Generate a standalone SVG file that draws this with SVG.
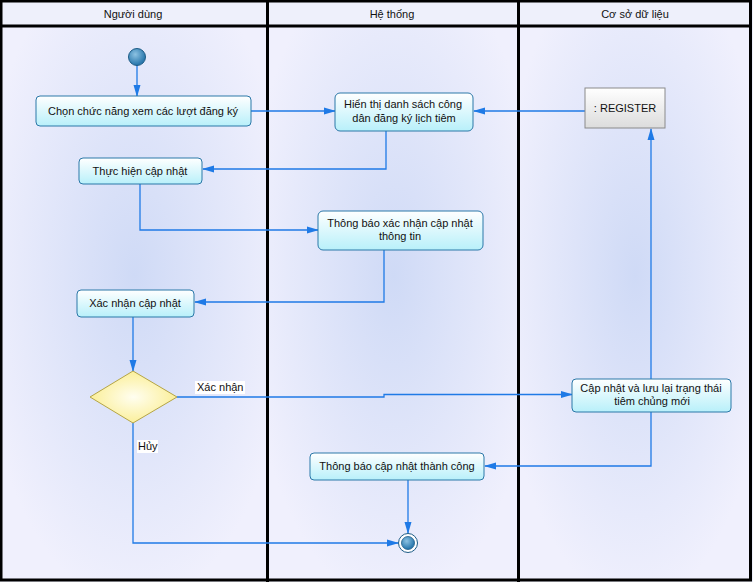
<svg xmlns="http://www.w3.org/2000/svg" width="753" height="582" viewBox="0 0 753 582">
<style>
text{font-family:"Liberation Sans",Arial,sans-serif;font-size:11px;fill:#111;}
.hdr{text-anchor:middle;}
.act rect{fill:url(#actG);stroke:#2b78a8;stroke-width:1;}
.act text{text-anchor:middle;}
.edge{fill:none;stroke:#1f7ae6;stroke-width:1.3;}
.sep{stroke:#000;stroke-width:3;}
</style>
<defs>
<linearGradient id="actG" x1="0" y1="0" x2="0" y2="1">
<stop offset="0" stop-color="#ffffff"/>
<stop offset="1" stop-color="#b8f0fa"/>
</linearGradient>
<linearGradient id="regG" x1="0" y1="0" x2="0" y2="1">
<stop offset="0" stop-color="#ffffff"/>
<stop offset="1" stop-color="#dcdcdc"/>
</linearGradient>
<radialGradient id="decG" cx="0.5" cy="0.5" r="0.5">
<stop offset="0" stop-color="#fffef0"/>
<stop offset="1" stop-color="#fbef9a"/>
</radialGradient>
<radialGradient id="nodeG" cx="0.4" cy="0.35" r="0.6">
<stop offset="0" stop-color="#8cc2e2"/>
<stop offset="1" stop-color="#2a78ad"/>
</radialGradient>
<radialGradient id="laneG" cx="0.5" cy="0.45" r="0.6">
<stop offset="0" stop-color="#cfdaf6"/>
<stop offset="1" stop-color="#f0f0fd"/>
</radialGradient>
<marker id="arr" viewBox="0 0 12 10" refX="11" refY="5" markerWidth="12" markerHeight="10" markerUnits="userSpaceOnUse" orient="auto">
<path d="M0,1.5 L12,5 L0,8.5 Z" fill="#1f7ae6"/>
</marker>
</defs>

<g id="lanes">
<rect x="0" y="0" width="753" height="582" fill="#eef0fb"/>
<rect x="2" y="27" width="265" height="552" fill="url(#laneG)"/>
<rect x="269" y="27" width="249" height="552" fill="url(#laneG)"/>
<rect x="520" y="27" width="230" height="552" fill="url(#laneG)"/>
<rect x="0" y="0" width="753" height="27" fill="#eef0fb"/>
<rect x="1" y="1" width="749.5" height="579" fill="none" stroke="#000" stroke-width="3"/>
<line class="sep" x1="0" y1="26" x2="752" y2="26"/>
<line class="sep" x1="267.5" y1="0" x2="267.5" y2="582"/>
<line class="sep" x1="518.5" y1="0" x2="518.5" y2="582"/>
<text class="hdr" x="133" y="18">Người dùng</text>
<text class="hdr" x="392" y="18">Hệ thống</text>
<text class="hdr" x="635" y="18">Cơ sở dữ liệu</text>
</g>

<g id="connectors">
<path class="edge" d="M137,65 V96" marker-end="url(#arr)"/>
<path class="edge" d="M251,111 H335" marker-end="url(#arr)"/>
<path class="edge" d="M585,111 H474" marker-end="url(#arr)"/>
<path class="edge" d="M386,131 V169 H203" marker-end="url(#arr)"/>
<path class="edge" d="M140,184 V230 H318" marker-end="url(#arr)"/>
<path class="edge" d="M384,250 V302 H195" marker-end="url(#arr)"/>
<path class="edge" d="M133,317 V371" marker-end="url(#arr)"/>
<path class="edge" d="M177,397 H384 V394.5 H572" marker-end="url(#arr)"/>
<path class="edge" d="M651,379 V129" marker-end="url(#arr)"/>
<path class="edge" d="M651,412 V466 H485" marker-end="url(#arr)"/>
<path class="edge" d="M408,480 V533" marker-end="url(#arr)"/>
<path class="edge" d="M133,423 V543 H398" marker-end="url(#arr)"/>
<rect x="195" y="381" width="50" height="13" fill="#fff"/>
<text x="197" y="391">Xác nhận</text>
<rect x="137" y="440" width="21" height="13" fill="#fff"/>
<text x="138" y="450">Hủy</text>
</g>

<g id="start">
<circle cx="137" cy="57" r="8.5" fill="url(#nodeG)" stroke="#1d5c86" stroke-width="1"/>
</g>

<g id="n1" class="act">
<rect x="36" y="96" width="215" height="30" rx="4"/>
<text x="143" y="114.5">Chọn chức năng xem các lượt đăng ký</text>
</g>

<g id="n2" class="act">
<rect x="335" y="93" width="138" height="38" rx="5"/>
<text x="403" y="108">Hiển thị danh sách công</text>
<text x="404" y="122">dân đăng ký lịch tiêm</text>
</g>

<g id="register">
<rect x="585" y="88" width="80" height="40" fill="url(#regG)" stroke="#8a8a8a" stroke-width="1"/>
<text x="625" y="112" text-anchor="middle">: REGISTER</text>
</g>

<g id="n3" class="act">
<rect x="79" y="158" width="123" height="26" rx="4"/>
<text x="140" y="174.5">Thực hiện cập nhật</text>
</g>

<g id="n4" class="act">
<rect x="318" y="211" width="165" height="39" rx="5"/>
<text x="400" y="227">Thông báo xác nhận cập nhật</text>
<text x="400" y="240">thông tin</text>
</g>

<g id="n5" class="act">
<rect x="77" y="290" width="117" height="27" rx="4"/>
<text x="135" y="306.5">Xác nhận cập nhật</text>
</g>

<g id="decision">
<polygon points="90,397 133,371 177,397 133,423" fill="url(#decG)" stroke="#b5a545" stroke-width="1"/>
</g>

<g id="n6" class="act">
<rect x="572" y="379" width="159" height="33" rx="4"/>
<text x="651" y="392">Cập nhật và lưu lại trạng thái</text>
<text x="652" y="405">tiêm chủng mới</text>
</g>

<g id="n7" class="act">
<rect x="310" y="453" width="174" height="27" rx="4"/>
<text x="397" y="470">Thông báo cập nhật thành công</text>
</g>

<g id="end">
<circle cx="408" cy="543" r="9.5" fill="#fff" stroke="#1d5c86" stroke-width="1"/>
<circle cx="408" cy="543" r="6.5" fill="url(#nodeG)" stroke="#1d5c86" stroke-width="0.8"/>
</g>
</svg>
